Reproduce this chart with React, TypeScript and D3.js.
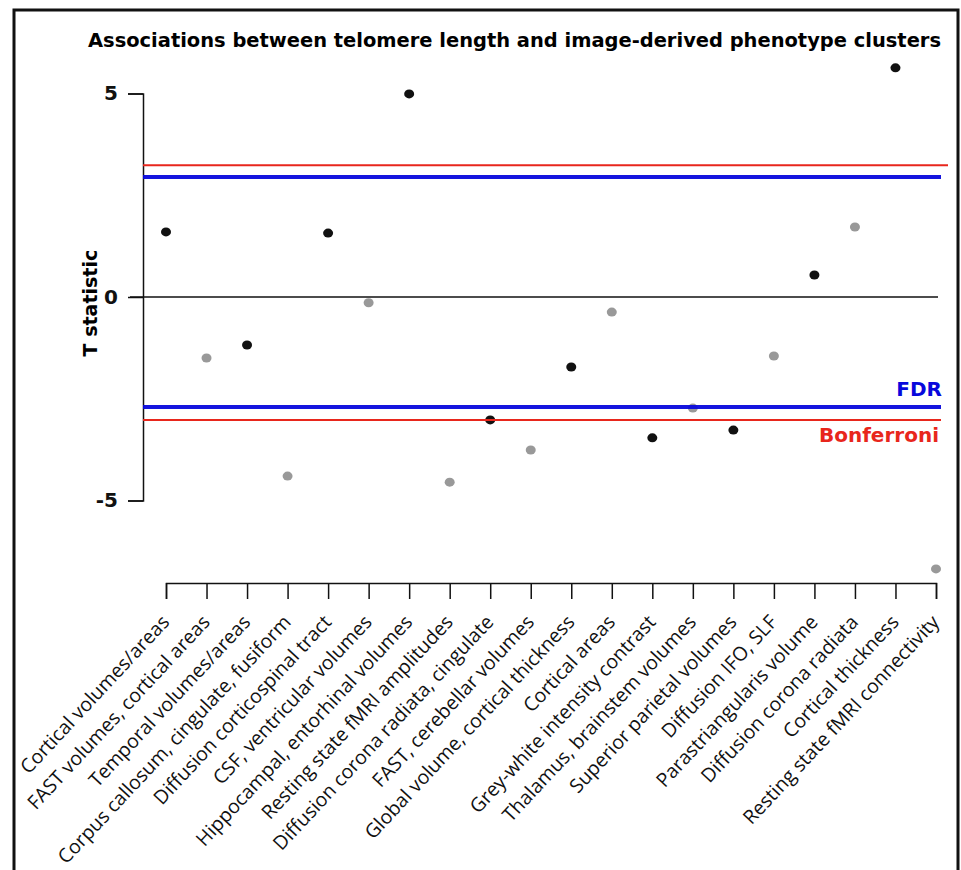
import { useRef, useEffect } from "react";
import * as d3 from "d3";

const categories = [
  "Cortical volumes/areas",
  "FAST volumes, cortical areas",
  "Temporal volumes/areas",
  "Corpus callosum, cingulate, fusiform",
  "Diffusion corticospinal tract",
  "CSF, ventricular volumes",
  "Hippocampal, entorhinal volumes",
  "Resting state fMRI amplitudes",
  "Diffusion corona radiata, cingulate",
  "FAST, cerebellar volumes",
  "Global volume, cortical thickness",
  "Cortical areas",
  "Grey-white intensity contrast",
  "Thalamus, brainstem volumes",
  "Superior parietal volumes",
  "Diffusion IFO, SLF",
  "Parastriangularis volume",
  "Diffusion corona radiata",
  "Cortical thickness",
  "Resting state fMRI connectivity",
];

const tValues = [
  1.6, -1.5, -1.18, -4.4, 1.57, -0.14, 4.99, -4.55, -3.02, -3.76,
  -1.72, -0.37, -3.46, -2.73, -3.27, -1.45, 0.54, 1.72, 5.63, -6.68,
];

const yTicks = [-5, 0, 5];
const fdr = [2.95, -2.7];
const bonferroni = [3.24, -3.02];

export default function App() {
  const ref = useRef<SVGSVGElement>(null);

  useEffect(() => {
    const svg = d3.select(ref.current);
    svg.selectAll("*").remove();

    const x = d3.scalePoint<string>().domain(categories).range([166, 936]);
    const y = d3.scaleLinear().domain([-7, 6]).range([581.9, 52.8]);

    // frame
    svg
      .append("path")
      .attr("d", "M14,872 V10 H958 V872")
      .attr("fill", "none")
      .attr("stroke", "#111")
      .attr("stroke-width", 3);

    svg
      .append("text")
      .attr("x", 88)
      .attr("y", 47)
      .attr("textLength", 853)
      .attr("lengthAdjust", "spacingAndGlyphs")
      .style("font-family", "DejaVu Sans, sans-serif")
      .style("font-weight", "bold")
      .style("font-size", "19px")
      .text(
        "Associations between telomere length and image-derived phenotype clusters"
      );

    // y axis (bracket from -5 to 5)
    const yAxisScale = d3
      .scaleLinear()
      .domain([-5, 5])
      .range([y(-5), y(5)]);
    const yAxis = svg
      .append("g")
      .attr("transform", "translate(143,0)")
      .call(
        d3
          .axisLeft(yAxisScale)
          .tickValues(yTicks)
          .tickSize(15)
          .tickPadding(10)
          .tickFormat((d) => String(d))
      );
    yAxis.selectAll("path, line").attr("stroke", "#111").attr("stroke-width", 1.5);
    yAxis
      .selectAll("text")
      .style("font-family", "DejaVu Sans, sans-serif")
      .style("font-weight", "bold")
      .style("font-size", "20px")
      .attr("fill", "#111");

    svg
      .append("text")
      .attr("transform", `translate(97,${y(-0.15)}) rotate(-90)`)
      .attr("text-anchor", "middle")
      .style("font-family", "DejaVu Sans, sans-serif")
      .style("font-weight", "bold")
      .style("font-size", "19px")
      .text("T statistic");

    // zero line
    svg
      .append("line")
      .attr("x1", 130)
      .attr("x2", 938)
      .attr("y1", y(0))
      .attr("y2", y(0))
      .attr("stroke", "#111")
      .attr("stroke-width", 1.3);

    // x axis
    const xAxis = svg
      .append("g")
      .attr("transform", "translate(0,583)")
      .call(d3.axisBottom(x).tickSize(16).tickSizeOuter(16));
    xAxis.selectAll("path, line").attr("stroke", "#111").attr("stroke-width", 1.5);
    xAxis
      .selectAll("text")
      .attr("text-anchor", "end")
      .attr("y", 0)
      .attr("dy", 0)
      .attr("transform", "translate(4,40) rotate(-47)")
      .style("font-family", "Open Sans, sans-serif")
      .style("font-size", "19.5px")
      .attr("fill", "#111");

    // points
    svg
      .append("g")
      .selectAll("ellipse")
      .data(tValues)
      .join("ellipse")
      .attr("cx", (_, i) => x(categories[i])!)
      .attr("cy", (d) => y(d))
      .attr("rx", 5)
      .attr("ry", 4.5)
      .attr("fill", (_, i) => (i % 2 === 0 ? "#111" : "#999"));

    // thresholds
    svg
      .append("g")
      .selectAll("line")
      .data(bonferroni)
      .join("line")
      .attr("x1", 143)
      .attr("x2", (_, i) => (i === 0 ? 948 : 941))
      .attr("y1", (d) => y(d))
      .attr("y2", (d) => y(d))
      .attr("stroke", "#e8261c")
      .attr("stroke-width", 2);

    svg
      .append("g")
      .selectAll("line")
      .data(fdr)
      .join("line")
      .attr("x1", 143)
      .attr("x2", 941)
      .attr("y1", (d) => y(d))
      .attr("y2", (d) => y(d))
      .attr("stroke", "#0808dc")
      .attr("stroke-opacity", 0.95)
      .attr("stroke-width", 4);

    svg
      .append("text")
      .attr("x", 942)
      .attr("y", y(fdr[1]) - 11)
      .attr("text-anchor", "end")
      .attr("fill", "#0808dc")
      .style("font-family", "DejaVu Sans, sans-serif")
      .style("font-weight", "bold")
      .style("font-size", "20px")
      .text("FDR");

    svg
      .append("text")
      .attr("x", 939)
      .attr("y", y(bonferroni[1]) + 22)
      .attr("text-anchor", "end")
      .attr("fill", "#e8261c")
      .style("font-family", "DejaVu Sans, sans-serif")
      .style("font-weight", "bold")
      .style("font-size", "20px")
      .text("Bonferroni");
  }, []);

  return (
    <svg
      ref={ref}
      width={961}
      height={870}
      style={{ position: "absolute", left: 0, top: 0, background: "#fff" }}
    />
  );
}
